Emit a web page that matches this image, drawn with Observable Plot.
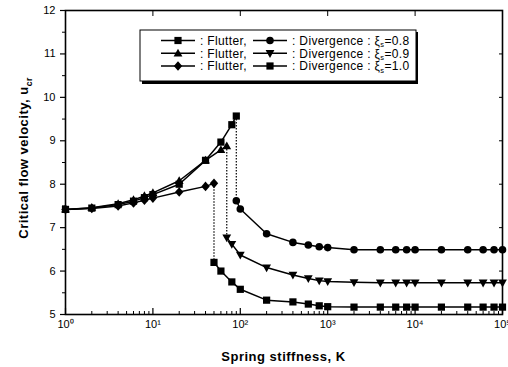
<!DOCTYPE html>
<html><head><meta charset="utf-8">
<script src="https://cdn.jsdelivr.net/npm/d3@7"></script>
<script src="https://cdn.jsdelivr.net/npm/@observablehq/plot@0.6"></script>
<style>body{margin:0;background:#fff} #chart{width:508px;height:367px}</style>
</head><body><div id="chart"></div>
<script>
// ---- data ----
const flutterK_08 = [1, 2, 4, 6, 8, 10, 20, 40, 60, 80, 90];
const flutterU_08 = [7.42, 7.45, 7.53, 7.61, 7.69, 7.76, 8.00, 8.55, 8.97, 9.37, 9.57];
const flutterK_09 = [1, 2, 4, 6, 8, 10, 20, 40, 60, 70];
const flutterU_09 = [7.42, 7.46, 7.55, 7.64, 7.73, 7.80, 8.08, 8.55, 8.79, 8.88];
const flutterK_10 = [1, 2, 4, 6, 8, 10, 20, 40, 50];
const flutterU_10 = [7.42, 7.44, 7.50, 7.57, 7.63, 7.68, 7.82, 7.95, 8.02];

const divK_08 = [90, 100, 200, 400, 600, 800, 1000, 2000, 4000, 6000, 8000, 10000, 20000, 40000, 60000, 80000, 100000];
const divU_08 = [7.62, 7.43, 6.86, 6.66, 6.60, 6.56, 6.54, 6.49, 6.49, 6.49, 6.49, 6.49, 6.49, 6.49, 6.49, 6.49, 6.49];
const divK_09 = [70, 80, 100, 200, 400, 600, 800, 1000, 2000, 4000, 6000, 8000, 10000, 20000, 40000, 60000, 80000, 100000];
const divU_09 = [6.77, 6.62, 6.37, 6.08, 5.91, 5.83, 5.78, 5.76, 5.74, 5.73, 5.73, 5.73, 5.73, 5.73, 5.73, 5.73, 5.73, 5.73];
const divK_10 = [50, 60, 80, 100, 200, 400, 600, 800, 1000, 2000, 4000, 6000, 8000, 10000, 20000, 40000, 60000, 80000, 100000];
const divU_10 = [6.20, 6.00, 5.75, 5.58, 5.33, 5.29, 5.24, 5.20, 5.18, 5.17, 5.17, 5.17, 5.17, 5.17, 5.17, 5.17, 5.17, 5.17, 5.17];

const xMajorTicks = [1, 10, 100, 1000, 10000, 100000];
const xTickLabels = ["10\u2070", "10\u00b9", "10\u00b2", "10\u00b3", "10\u2074", "10\u2075"];
const yMajorTicks = [5, 6, 7, 8, 9, 10, 11, 12];
const xiLabels = ["0.8", "0.9", "1.0"];

// ---- symbols ----
const rad = s => Math.sqrt(s / Math.PI);
const symSquare = {draw(c, s){const h = rad(s)*0.9; c.rect(-h, -h, 2*h, 2*h);}};
const symCircle = {draw(c, s){const r = rad(s)*0.95; c.moveTo(r, 0); c.arc(0, 0, r, 0, 2*Math.PI);}};
const symTriUp = {draw(c, s){const r = rad(s); c.moveTo(0, -r*1.15); c.lineTo(r*1.1, r*0.8); c.lineTo(-r*1.1, r*0.8); c.closePath();}};
const symTriDown = {draw(c, s){const r = rad(s); c.moveTo(0, r*1.15); c.lineTo(r*1.1, -r*0.8); c.lineTo(-r*1.1, -r*0.8); c.closePath();}};
const symDiamond = {draw(c, s){const r = rad(s); c.moveTo(0, -r*1.2); c.lineTo(r*1.05, 0); c.lineTo(0, r*1.2); c.lineTo(-r*1.05, 0); c.closePath();}};

const toRows = (K, U) => K.map((k, i) => ({k, u: U[i]}));
const series = [
  {fl: toRows(flutterK_08, flutterU_08), dv: toRows(divK_08, divU_08), fs: symSquare, ds: symCircle},
  {fl: toRows(flutterK_09, flutterU_09), dv: toRows(divK_09, divU_09), fs: symTriUp, ds: symTriDown},
  {fl: toRows(flutterK_10, flutterU_10), dv: toRows(divK_10, divU_10), fs: symDiamond, ds: symSquare}
];
const drops = series.map(s => ({k1: s.fl[s.fl.length-1].k, u1: s.fl[s.fl.length-1].u, k2: s.dv[0].k, u2: s.dv[0].u}));

const xMinor = [];
for (let d = 1; d < 100000; d *= 10) for (let m = 2; m <= 9; m++) xMinor.push(d*m);
const yMinor = yMajorTicks.slice(0, -1).map(v => v + 0.5);
const blank = () => "";

const R = 4;
const marks = [
  Plot.axisX({ticks: xMajorTicks, tickSize: -6, tickFormat: blank, strokeWidth: 1.2}),
  Plot.axisX({ticks: xMinor, tickSize: -3, tickFormat: blank, strokeWidth: 1}),
  Plot.axisX({anchor: "top", ticks: xMajorTicks, tickSize: -5, tickFormat: blank, strokeWidth: 1}),
  Plot.axisX({ticks: xMajorTicks, tickSize: 0, tickPadding: 6, tickFormat: d => xTickLabels[xMajorTicks.indexOf(d)], fontSize: 11}),
  Plot.axisY({ticks: yMajorTicks, tickSize: 5, tickFormat: blank, strokeWidth: 1.2}),
  Plot.axisY({ticks: yMinor, tickSize: 3, tickFormat: blank, strokeWidth: 1}),
  Plot.axisY({anchor: "right", ticks: yMajorTicks, tickSize: -4, tickFormat: blank, strokeWidth: 1}),
  Plot.axisY({ticks: yMajorTicks, tickSize: 0, tickPadding: 10, tickFormat: d3.format("d"), fontSize: 11}),
  Plot.link(drops, {x1: "k1", y1: "u1", x2: "k2", y2: "u2", stroke: "black", strokeWidth: 1.2, strokeDasharray: "1.5,1.5"})
];
for (const s of series) {
  marks.push(Plot.line(s.fl, {x: "k", y: "u", stroke: "black", strokeWidth: 1.5}));
  marks.push(Plot.line(s.dv, {x: "k", y: "u", stroke: "black", strokeWidth: 1.5}));
}
for (const s of series) {
  marks.push(Plot.dot(s.fl, {x: "k", y: "u", symbol: s.fs, r: R, fill: "black", stroke: "none"}));
  marks.push(Plot.dot(s.dv, {x: "k", y: "u", symbol: s.ds, r: R, fill: "black", stroke: "none"}));
}
marks.push(Plot.frame({stroke: "black", strokeWidth: 1.6}));

const chart = Plot.plot({
  width: 508, height: 367,
  marginTop: 10, marginBottom: 53, marginLeft: 65, marginRight: 6,
  style: {fontFamily: "'Liberation Sans', Arial, sans-serif", color: "black", background: "white"},
  x: {type: "log", domain: [1, 100000], label: null},
  y: {domain: [5, 12], label: null},
  marks
});
document.getElementById("chart").appendChild(chart);

// ---- axis titles & legend ----
const svg = d3.select(chart);
const font = "'Liberation Sans', Arial, sans-serif";
svg.append("text").attr("x", 283.5).attr("y", 361).attr("text-anchor", "middle")
  .attr("font-family", font).attr("font-size", 13).attr("font-weight", "bold").attr("fill", "black")
  .attr("letter-spacing", 0.5).text("Spring stiffness, K");
const yt = svg.append("text").attr("transform", "translate(28,158) rotate(-90)").attr("text-anchor", "middle")
  .attr("font-family", font).attr("font-size", 13).attr("font-weight", "bold").attr("fill", "black").attr("letter-spacing", 0.5);
yt.append("tspan").text("Critical flow velocity, u");
yt.append("tspan").attr("font-size", 8.5).attr("dy", 4).text("cr");

const lg = svg.append("g").attr("text-anchor", "start");
lg.append("rect").attr("x", 142).attr("y", 32).attr("width", 276).attr("height", 52).attr("fill", "black");
lg.append("rect").attr("x", 140).attr("y", 30).attr("width", 276).attr("height", 51).attr("fill", "white").attr("stroke", "black").attr("stroke-width", 1);
const rowsY = [40.5, 53.3, 66];
series.forEach((s, i) => {
  const y = rowsY[i];
  [[161, 195, s.fs], [253, 287, s.ds]].forEach(([a, b, sym]) => {
    lg.append("line").attr("x1", a).attr("x2", b).attr("y1", y).attr("y2", y).attr("stroke", "black").attr("stroke-width", 1.5);
    lg.append("path").attr("transform", `translate(${(a+b)/2},${y})`).attr("d", d3.symbol().type(sym).size(Math.PI*R*R)()).attr("fill", "black");
  });
  lg.append("text").attr("x", 200).attr("y", y + 4.2).attr("text-anchor", "start").attr("font-family", font).attr("font-size", 12).attr("letter-spacing", 0.35).attr("fill", "black").text(": Flutter,");
  const t = lg.append("text").attr("x", 292).attr("y", y + 4.2).attr("text-anchor", "start").attr("font-family", font).attr("font-size", 12).attr("letter-spacing", 0.35).attr("fill", "black");
  t.append("tspan").text(": Divergence : \u03be");
  t.append("tspan").attr("font-size", 7.5).attr("dy", 2.5).text("s");
  t.append("tspan").attr("dy", -2.5).text("=" + xiLabels[i]);
});
</script>
</body></html>
